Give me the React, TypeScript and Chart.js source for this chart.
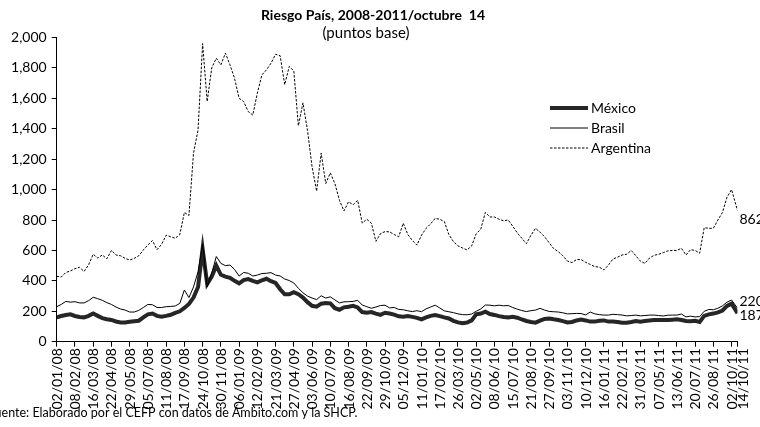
import React, { useEffect, useRef } from "react";
import { Chart, registerables } from "chart.js";

Chart.register(...registerables);

const TITLE = "Riesgo País, 2008-2011/octubre  14";
const SUBTITLE = "(puntos base)";
const SOURCE = "Fuente: Elaborado por el CEFP con datos de Ámbito.com y la SHCP.";

const TICK_LABELS = [
  "02/01/08", "08/02/08", "16/03/08", "22/04/08", "29/05/08", "05/07/08", "11/08/08", "17/09/08",
  "24/10/08", "30/11/08", "06/01/09", "12/02/09", "21/03/09", "27/04/09", "03/06/09", "10/07/09",
  "16/08/09", "22/09/09", "29/10/09", "05/12/09", "11/01/10", "17/02/10", "26/03/10", "02/05/10",
  "08/06/10", "15/07/10", "21/08/10", "27/09/10", "03/11/10", "10/12/10", "16/01/11", "22/02/11",
  "31/03/11", "07/05/11", "13/06/11", "20/07/11", "26/08/11", "02/10/11", "14/10/11",
];

// Days between consecutive tick labels, samples read per label interval, last day (14/10/11)
const LABEL_STEP_DAYS = 37;
const SAMPLES_PER_LABEL = 4;
const LAST_DAY = 1381;

const SERIES_NAMES = ["México", "Brasil", "Argentina"];

const MEXICO = [
  160, 169, 176, 180, 169, 162, 160, 170, 185, 170, 155, 148, 143, 133, 127, 127,
  131, 135, 138, 160, 180, 185, 170, 164, 170, 177, 190, 200, 222, 248, 290, 360,
  610, 380, 428, 500, 440, 428, 420, 400, 384, 405, 412, 400, 390, 404, 414, 398,
  386, 345, 312, 312, 326, 312, 290, 260, 236, 230, 250, 255, 252, 220, 210, 226,
  230, 236, 225, 195, 190, 195, 185, 176, 190, 185, 178, 167, 164, 169, 163, 157,
  147, 160, 170, 175, 168, 160, 153, 137, 127, 122, 126, 140, 180, 185, 197, 182,
  176, 168, 163, 160, 164, 158, 146, 136, 130, 125, 138, 150, 152, 147, 143, 135,
  126, 130, 140, 145, 140, 132, 132, 138, 140, 132, 132, 130, 125, 125, 130, 136,
  132, 136, 139, 142, 143, 143, 143, 145, 147, 143, 136, 134, 138, 130, 170, 180,
  185, 193, 205, 235, 250, 187,
];

const BRASIL = [
  230, 245, 265, 260, 263, 255, 255, 270, 292, 283, 272, 257, 245, 228, 215, 208,
  195, 195, 206, 225, 245, 243, 225, 225, 230, 232, 235, 252, 340, 290, 360, 460,
  640, 360, 450, 560, 515, 500, 504, 475, 432, 455, 450, 432, 438, 448, 450, 454,
  438, 432, 412, 402, 386, 351, 322, 300, 287, 277, 302, 287, 295, 275, 255, 262,
  263, 265, 272, 241, 230, 220, 228, 238, 240, 222, 225, 212, 210, 203, 198, 204,
  197, 216, 228, 240, 222, 203, 197, 191, 183, 178, 177, 182, 200, 215, 241, 240,
  236, 240, 236, 238, 225, 214, 205, 198, 204, 208, 219, 208, 199, 197, 195, 190,
  183, 184, 186, 185, 176, 195, 183, 178, 175, 175, 180, 178, 175, 170, 172, 175,
  170, 172, 175, 175, 172, 169, 174, 175, 175, 182, 163, 168, 163, 165, 200, 212,
  210, 220, 236, 260, 274, 220,
];

const ARGENTINA = [
  430, 425, 455, 465, 480, 489, 462, 505, 575, 550, 570, 545, 600, 570, 565, 548,
  537, 548, 565, 603, 636, 665, 605, 640, 700, 690, 680, 705, 850, 830, 1239, 1393,
  1960, 1580, 1800, 1864, 1820, 1897, 1820, 1732, 1600, 1579, 1513, 1490, 1634, 1754, 1787, 1831,
  1890, 1880, 1690, 1810, 1780, 1420, 1570, 1390, 1150, 990, 1240, 1040, 1110, 1040, 930, 860,
  920, 900, 930, 780, 805, 780, 660, 710, 724, 722, 705, 690, 779, 705, 665, 635,
  700, 745, 775, 811, 805, 790, 705, 658, 630, 616, 603, 630, 710, 740, 850, 820,
  820, 805, 795, 800, 760, 715, 680, 645, 700, 745, 720, 690, 650, 612, 592, 565,
  530, 520, 540, 540, 522, 508, 494, 490, 472, 504, 544, 556, 570, 575, 600, 565,
  530, 515, 550, 568, 575, 585, 597, 600, 600, 614, 570, 605, 600, 582, 750, 745,
  746, 800, 850, 950, 1000, 862,
];

const Y_MIN = 0;
const Y_MAX = 2000;
const Y_STEP = 200;

const FONT = "Lato, 'Open Sans', sans-serif";

function dayOf(i: number, n: number): number {
  return i === n - 1 ? LAST_DAY : (i * LABEL_STEP_DAYS) / SAMPLES_PER_LABEL;
}

function toPoints(values: number[]) {
  return values.map((v, i) => ({ x: dayOf(i, values.length), y: v }));
}

const TICK_DAYS = TICK_LABELS.map((_, i) =>
  i === TICK_LABELS.length - 1 ? LAST_DAY : i * LABEL_STEP_DAYS
);

const decorPlugin = {
  id: "decor",
  afterDraw(chart: any) {
    const ctx = chart.ctx as CanvasRenderingContext2D;
    const xs = chart.scales.x;
    const ys = chart.scales.y;
    const area = chart.chartArea;
    ctx.save();
    ctx.fillStyle = "#000";

    // X tick labels, rotated, reading bottom to top
    ctx.font = `14px ${FONT}`;
    ctx.textAlign = "right";
    ctx.textBaseline = "alphabetic";
    let prev = -Infinity;
    TICK_DAYS.forEach((d, i) => {
      let px = xs.getPixelForValue(d);
      if (px < prev + 11) px = prev + 11;
      prev = px;
      ctx.save();
      ctx.translate(px, area.bottom + 6.5);
      ctx.rotate(-Math.PI / 2);
      ctx.fillText(TICK_LABELS[i], 0, 5);
      ctx.restore();
    });

    ctx.textBaseline = "middle";

    // Title
    ctx.textAlign = "center";
    ctx.font = `bold 14px ${FONT}`;
    ctx.fillText(TITLE, 373, 15);
    ctx.font = `15px ${FONT}`;
    ctx.fillText(SUBTITLE, 366, 33);

    // Legend
    const legendY = [108, 128, 148];
    const styles = [
      { w: 4, dash: [] as number[], c: "#262626" },
      { w: 1, dash: [] as number[], c: "#000" },
      { w: 1, dash: [2.5, 1.5], c: "#000" },
    ];
    ctx.textAlign = "left";
    ctx.font = `14px ${FONT}`;
    SERIES_NAMES.forEach((name, i) => {
      const s = styles[i];
      ctx.save();
      ctx.strokeStyle = s.c;
      ctx.lineWidth = s.w;
      ctx.setLineDash(s.dash);
      ctx.beginPath();
      ctx.moveTo(550, legendY[i]);
      ctx.lineTo(588, legendY[i]);
      ctx.stroke();
      ctx.restore();
      ctx.fillText(name, 591, legendY[i]);
    });

    // End value labels
    const lx = area.right + 2;
    ctx.font = `14px ${FONT}`;
    const argLast = ARGENTINA[ARGENTINA.length - 1];
    const braLast = BRASIL[BRASIL.length - 1];
    const mexLast = MEXICO[MEXICO.length - 1];
    ctx.fillText(String(argLast), lx, ys.getPixelForValue(argLast) + 9);
    ctx.fillText(String(braLast), lx, ys.getPixelForValue(braLast) - 7);
    ctx.fillText(String(mexLast), lx, ys.getPixelForValue(mexLast) + 2);

    // Source
    ctx.font = `12.5px ${FONT}`;
    ctx.fillText(SOURCE, -12, 413);
    ctx.restore();
  },
};

export default function App() {
  const ref = useRef<HTMLCanvasElement | null>(null);

  useEffect(() => {
    if (!ref.current) return;
    const chart = new Chart(ref.current, {
      type: "line",
      data: {
        datasets: [
          {
            label: SERIES_NAMES[0],
            data: toPoints(MEXICO),
            borderColor: "#262626",
            borderWidth: 4,
            pointRadius: 0,
            tension: 0,
            order: 3,
          },
          {
            label: SERIES_NAMES[1],
            data: toPoints(BRASIL),
            borderColor: "#000",
            borderWidth: 1,
            pointRadius: 0,
            tension: 0,
            order: 2,
          },
          {
            label: SERIES_NAMES[2],
            data: toPoints(ARGENTINA),
            borderColor: "#000",
            borderWidth: 1,
            borderDash: [2.5, 1.5],
            pointRadius: 0,
            tension: 0,
            order: 1,
          },
        ],
      },
      options: {
        animation: false,
        responsive: true,
        maintainAspectRatio: false,
        parsing: false as any,
        layout: { padding: { left: 0, right: 22.5, top: 37.5, bottom: 0 } },
        plugins: {
          legend: { display: false },
          title: { display: false },
          tooltip: { enabled: false },
        },
        scales: {
          x: {
            type: "linear",
            min: 0,
            max: LAST_DAY,
            grid: { drawOnChartArea: false, drawTicks: true, tickLength: 5, color: "#000" },
            border: { display: true, color: "#000", width: 1 },
            afterBuildTicks: (scale: any) => {
              scale.ticks = TICK_DAYS.map((v) => ({ value: v }));
            },
            afterFit: (scale: any) => {
              scale.height = 427 - 341.7;
            },
            ticks: {
              display: false,
              autoSkip: false,
            },
          },
          y: {
            type: "linear",
            min: Y_MIN,
            max: Y_MAX,
            grid: { drawOnChartArea: false, drawTicks: true, tickLength: 5, color: "#000" },
            border: { display: true, color: "#000", width: 1 },
            afterFit: (scale: any) => {
              scale.width = 56.7;
            },
            ticks: {
              stepSize: Y_STEP,
              padding: 5,
              color: "#000",
              font: { family: FONT, size: 14 },
              callback: (v: any) => Number(v).toLocaleString("en-US"),
            },
          },
        },
      },
      plugins: [decorPlugin],
    });
    return () => chart.destroy();
  }, []);

  return (
    <div style={{ position: "absolute", left: 0, top: 0, width: 760, height: 427, background: "#fff" }}>
      <canvas ref={ref} />
    </div>
  );
}
